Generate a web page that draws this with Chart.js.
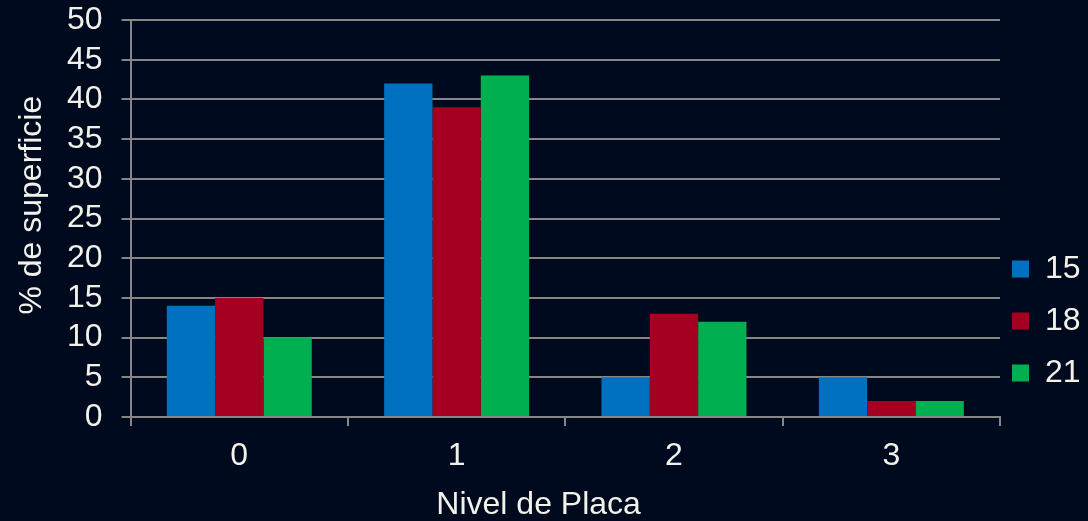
<!DOCTYPE html>
<html>
<head>
<meta charset="utf-8">
<script src="https://cdn.jsdelivr.net/npm/chart.js@4"></script>
<style>
  html, body { margin: 0; padding: 0; background: #000a1e; }
  #wrap { width: 1088px; height: 521px; }
</style>
</head>
<body>
<div id="wrap"><canvas id="placa"></canvas></div>
<script>
// Niveles de placa (eje X) y % de superficie por serie
const niveles = ["0", "1", "2", "3"];
const serie15 = [14, 42, 5, 5];
const serie18 = [15, 39, 13, 2];
const serie21 = [10, 43, 12, 2];
const nombresSeries = ["15", "18", "21"];

const texto = "#f2f2ea";
const rejilla = "#878787";
const fuente = "'Liberation Sans', Arial, sans-serif";
const tam = 32;
// espacios duros para descentrar un poco los títulos de los ejes
const hueco = n => "\u00a0".repeat(n);

new Chart(document.getElementById("placa"), {
  type: "bar",
  data: {
    labels: niveles,
    datasets: [
      { label: nombresSeries[0], data: serie15, backgroundColor: "#0070c0" },
      { label: nombresSeries[1], data: serie18, backgroundColor: "#a50021" },
      { label: nombresSeries[2], data: serie21, backgroundColor: "#00b050" }
    ]
  },
  options: {
    responsive: true,
    maintainAspectRatio: false,
    animation: false,
    layout: { padding: { top: 20, left: 0, right: 0, bottom: 0 } },
    datasets: { bar: { categoryPercentage: 0.667, barPercentage: 1.0 } },
    plugins: {
      tooltip: { enabled: false },
      legend: {
        position: "right",
        maxWidth: 88,
        // título vacío: solo baja la columna de la leyenda
        title: { display: true, text: "", font: { size: 10, lineHeight: 1 }, padding: { top: 99, bottom: 0 } },
        labels: {
          color: texto,
          boxWidth: 17,
          boxHeight: 17,
          padding: 12,
          font: { family: fuente, size: tam, lineHeight: 1.25 },
          // texto como array para que la altura de cada fila use lineHeight
          generateLabels(chart) {
            const items = Chart.defaults.plugins.legend.labels.generateLabels(chart);
            items.forEach(it => { it.text = [it.text]; });
            return items;
          }
        }
      }
    },
    scales: {
      x: {
        grid: { drawOnChartArea: false, drawTicks: true, tickLength: 9, color: rejilla, lineWidth: 2, offset: true },
        border: { color: rejilla, width: 2 },
        ticks: { color: texto, font: { family: fuente, size: tam, lineHeight: 1 }, padding: 14 },
        title: { display: true, text: "Nivel de Placa" + hueco(6), color: texto, font: { family: fuente, size: tam, lineHeight: 1 }, padding: { top: 3, bottom: 0 } }
      },
      y: {
        min: 0,
        max: 50,
        afterFit(s) { s.paddingTop = 0; s.paddingBottom = 0; },
        ticks: { stepSize: 5, autoSkip: false, color: texto, font: { family: fuente, size: tam, lineHeight: 1 }, padding: 19 },
        grid: { color: rejilla, lineWidth: 2, tickLength: 9 },
        border: { color: rejilla, width: 2 },
        title: { display: true, text: hueco(3) + "% de superficie", color: texto, font: { family: fuente, size: tam, lineHeight: 1 }, padding: { top: 16, bottom: 0 } }
      }
    }
  }
});
</script>
</body>
</html>
